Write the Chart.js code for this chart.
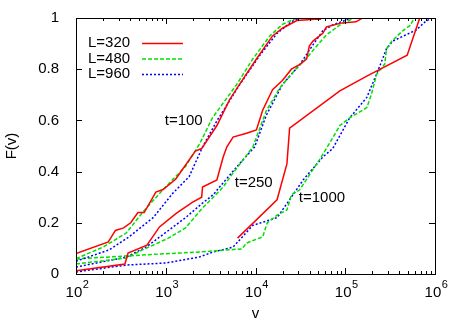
<!DOCTYPE html>
<html>
<head>
<meta charset="utf-8">
<script src="https://cdn.jsdelivr.net/npm/chart.js@4/dist/chart.umd.min.js"></script>
<style>
html, body { margin: 0; padding: 0; background: #fff; }
</style>
</head>
<body>
<canvas id="cdf" width="463" height="324"></canvas>
<script>
// series names
var seriesLabels = ['L=320', 'L=480', 'L=960'];
var timeLabels = ['t=100', 't=250', 't=1000'];

// t=100
var v100a = [100, 229, 275, 339, 407, 490, 575, 776, 933, 1288, 2138, 2512, 3715, 5129, 6607, 10233, 15488, 19953, 28840, 45709, 53703];
var F100a = [0.08, 0.125, 0.17, 0.18, 0.20, 0.24, 0.24, 0.32, 0.33, 0.37, 0.48, 0.49, 0.58, 0.68, 0.74, 0.84, 0.93, 0.96, 0.99, 0.995, 0.995];
var v100b = [100, 200, 363, 550, 933, 1660, 2400, 3311, 6166, 9333, 14454, 19953, 28840];
var F100b = [0.06, 0.105, 0.16, 0.24, 0.33, 0.42, 0.51, 0.61, 0.74, 0.84, 0.93, 0.975, 1.0];
var v100c = [100, 234, 389, 724, 1202, 1820, 2570, 3715, 6607, 11220, 17378, 25119, 30903];
var F100c = [0.05, 0.094, 0.145, 0.22, 0.316, 0.38, 0.496, 0.598, 0.738, 0.855, 0.94, 0.985, 1.0];

// t=250
var v250a = [100, 351, 380, 617, 851, 1318, 1995, 2512, 2570, 3715, 3981, 4365, 4786, 5623, 7943, 10233, 12023, 15488, 19953, 25119, 31623, 37154, 39811, 43652, 56234, 61660, 89125, 131826, 154882];
var F250a = [0.013, 0.039, 0.082, 0.113, 0.184, 0.238, 0.281, 0.30, 0.34, 0.367, 0.406, 0.457, 0.496, 0.535, 0.55, 0.5625, 0.64, 0.72, 0.756, 0.80, 0.82, 0.84, 0.89, 0.91, 0.94, 0.965, 0.98, 0.985, 1.0];
var v250b = [100, 363, 550, 1072, 1660, 2570, 3388, 4365, 5495, 7244, 9333, 13183, 18621, 28840, 37154, 47863, 61660, 87096, 112202, 125893];
var F250b = [0.039, 0.0625, 0.094, 0.14, 0.18, 0.258, 0.30, 0.34, 0.39, 0.445, 0.496, 0.637, 0.727, 0.805, 0.844, 0.89, 0.934, 0.973, 0.992, 1.0];
var v250c = [100, 363, 603, 1072, 1660, 2570, 3388, 3981, 6607, 9772, 13183, 19953, 30903, 43652, 56234, 72444, 102329, 117490];
var F250c = [0.027, 0.066, 0.105, 0.17, 0.22, 0.277, 0.31, 0.34, 0.43, 0.496, 0.62, 0.74, 0.816, 0.895, 0.95, 0.973, 0.992, 1.0];

// t=1000
var v1000a = [6310, 17378, 22387, 23988, 87096, 173780, 489779, 676083];
var F1000a = [0.14, 0.29, 0.43, 0.57, 0.715, 0.773, 0.855, 1.0];
var v1000b = [100, 851, 2399, 7079, 7943, 12023, 13490, 17378, 22387, 25119, 30903, 51286, 61660, 87096, 112202, 173780, 194984, 223872, 275423, 288403, 331131, 436516, 524807, 588844];
var F1000b = [0.059, 0.078, 0.086, 0.098, 0.121, 0.145, 0.199, 0.23, 0.25, 0.31, 0.328, 0.445, 0.49, 0.58, 0.61, 0.65, 0.70, 0.78, 0.82, 0.88, 0.91, 0.95, 0.97, 1.0];
var v1000c = [100, 363, 1000, 2344, 3388, 5623, 9333, 17378, 23988, 33884, 56234, 72444, 112202, 173780, 229087, 288403, 338844, 616595, 794328, 933254];
var F1000c = [0.008, 0.035, 0.043, 0.066, 0.086, 0.105, 0.19, 0.22, 0.29, 0.367, 0.457, 0.49, 0.61, 0.69, 0.79, 0.88, 0.91, 0.953, 0.988, 1.0];

// where the t= labels sit (data coords)
var timeLabelV = [1585, 9550, 55000];
var timeLabelF = [0.598, 0.355, 0.297];

var xTicks = [100, 1000, 10000, 100000, 1000000];
var yTicks = [0, 0.2, 0.4, 0.6, 0.8, 1];

var colors = ['#ff0000', '#00e000', '#0000ff'];
var dashes = [[], [4, 2], [2, 2]];
var FONT = '"Liberation Sans", Arial, sans-serif';

function pts(vs, fs) {
    return vs.map(function (v, i) { return { x: v, y: fs[i] }; });
}

function line(label, k, vs, fs) {
    return {
        label: label,
        data: pts(vs, fs),
        borderColor: colors[k],
        borderDash: dashes[k],
        borderWidth: 1.5,
        pointRadius: 0,
        fill: false,
        tension: 0
    };
}

// box, inward ticks, 10^n labels, key and t= labels
var decor = {
    id: 'decor',
    afterDatasetsDraw: function (chart) {
        var ctx = chart.ctx, a = chart.chartArea;
        var xs = chart.scales.x, ys = chart.scales.y;
        ctx.save();
        ctx.strokeStyle = '#000';
        ctx.lineWidth = 1;
        ctx.strokeRect(Math.round(a.left) + 0.5, Math.round(a.top) + 0.5, Math.round(a.right - a.left), Math.round(a.bottom - a.top));
        ctx.beginPath();
        for (var k = 2; k <= 6; k++) {
            for (var m = 1; m <= 9; m++) {
                if (k == 6 && m > 1) break;
                var px = Math.round(xs.getPixelForValue(m * Math.pow(10, k))) + 0.5;
                var len = m == 1 ? 6 : 3;
                ctx.moveTo(px, a.bottom); ctx.lineTo(px, a.bottom - len);
                ctx.moveTo(px, a.top); ctx.lineTo(px, a.top + len);
            }
        }
        yTicks.forEach(function (t) {
            var py = Math.round(ys.getPixelForValue(t)) + 0.5;
            ctx.moveTo(a.left, py); ctx.lineTo(a.left + 6, py);
            ctx.moveTo(a.right, py); ctx.lineTo(a.right - 6, py);
        });
        ctx.stroke();

        ctx.fillStyle = '#000';
        ctx.textBaseline = 'alphabetic';
        ctx.textAlign = 'left';
        xTicks.forEach(function (v) {
            var e = String(Math.round(Math.log10(v)));
            ctx.font = '15px ' + FONT;
            var w1 = ctx.measureText('10').width;
            ctx.font = '11px ' + FONT;
            var w2 = ctx.measureText(e).width;
            var x0 = xs.getPixelForValue(v) - (w1 + w2) / 2 + 1;
            ctx.font = '15px ' + FONT;
            ctx.fillText('10', x0, a.bottom + 23);
            ctx.font = '11px ' + FONT;
            ctx.fillText(e, x0 + w1 + 0.5, a.bottom + 14);
        });

        ctx.font = '15px ' + FONT;
        ctx.textBaseline = 'middle';
        for (var i = 0; i < 3; i++) {
            var ds = chart.data.datasets[i];
            var y = a.top + 25 + i * 15.5;
            ctx.textAlign = 'left';
            ctx.fillText(ds.label, a.left + 12, y);
            ctx.beginPath();
            ctx.strokeStyle = ds.borderColor;
            ctx.lineWidth = 1.5;
            ctx.setLineDash(ds.borderDash);
            ctx.moveTo(a.left + 66, y + 0.5);
            ctx.lineTo(a.left + 107, y + 0.5);
            ctx.stroke();
            ctx.setLineDash([]);
        }
        ctx.textAlign = 'center';
        for (var j = 0; j < 3; j++) {
            ctx.fillText(timeLabels[j], xs.getPixelForValue(timeLabelV[j]), ys.getPixelForValue(timeLabelF[j]));
        }
        ctx.restore();
    }
};

var chart = new Chart(document.getElementById('cdf'), {
    type: 'line',
    data: {
        datasets: [
            line(seriesLabels[0], 0, v100a, F100a),
            line(seriesLabels[1], 1, v100b, F100b),
            line(seriesLabels[2], 2, v100c, F100c),
            line(seriesLabels[0], 0, v250a, F250a),
            line(seriesLabels[1], 1, v250b, F250b),
            line(seriesLabels[2], 2, v250c, F250c),
            line(seriesLabels[0], 0, v1000a, F1000a),
            line(seriesLabels[1], 1, v1000b, F1000b),
            line(seriesLabels[2], 2, v1000c, F1000c)
        ]
    },
    options: {
        responsive: false,
        animation: false,
        layout: { padding: { top: 18, right: 28, left: 0, bottom: 0 } },
        plugins: {
            legend: { display: false },
            tooltip: { enabled: false }
        },
        scales: {
            x: {
                type: 'logarithmic',
                min: 100,
                max: 1000000,
                grid: { display: false },
                border: { display: false },
                afterFit: function (s) { s.height = 50; },
                ticks: { display: false },
                title: {
                    display: true,
                    text: 'v',
                    color: '#000',
                    font: { family: FONT, size: 15 },
                    padding: { top: 0, bottom: 1 }
                }
            },
            y: {
                type: 'linear',
                min: 0,
                max: 1,
                grid: { display: false },
                border: { display: false },
                afterFit: function (s) { s.width = 76; },
                afterBuildTicks: function (s) {
                    s.ticks = yTicks.map(function (v) { return { value: v }; });
                },
                ticks: {
                    padding: 9,
                    color: '#000',
                    font: { family: FONT, size: 15 },
                    callback: function (v) { return String(Number(v.toFixed(1))); }
                },
                title: {
                    display: true,
                    text: 'F(v)',
                    color: '#000',
                    font: { family: FONT, size: 15 },
                    padding: { top: 3, bottom: 0 }
                }
            }
        }
    },
    plugins: [decor]
});
</script>
</body>
</html>
